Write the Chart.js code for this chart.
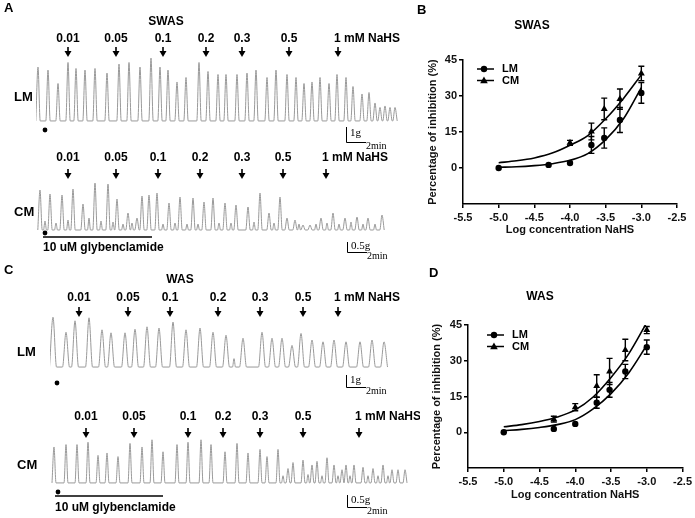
<!DOCTYPE html>
<html>
<head>
<meta charset="utf-8">
<script src="https://cdn.jsdelivr.net/npm/chart.js@4.4.1/dist/chart.umd.min.js"></script>
<style>
  html, body { margin: 0; padding: 0; background: #fff; }
  #fig { position: relative; width: 695px; height: 518px; overflow: hidden; }
  canvas { position: absolute; }
</style>
</head>
<body>
<div id="fig">
  <canvas id="lmSwas" width="420" height="150" style="left:0;top:0"></canvas>
  <canvas id="cmSwas" width="420" height="112" style="left:0;top:150px"></canvas>
  <canvas id="lmWas" width="420" height="142" style="left:0;top:255px"></canvas>
  <canvas id="cmWas" width="420" height="128" style="left:0;top:390px"></canvas>
  <canvas id="swas" width="285" height="258" style="left:410px;top:0"></canvas>
  <canvas id="was" width="285" height="260" style="left:410px;top:258px"></canvas>
</div>
<script>
const FONT = '"Liberation Sans", Arial, sans-serif';
const SERIF = '"Liberation Serif", "Times New Roman", serif';

// NaHS additions (mM), and the minute each was added in each recording
const doseLabels = ['0.01', '0.05', '0.1', '0.2', '0.3', '0.5', '1 mM NaHS'];
const doseTimesLmSwas = [3.2, 8.0, 12.7, 17.0, 20.6, 25.3, 30.2];
const doseTimesCmSwas = [3.2, 8.0, 12.2, 16.4, 20.6, 24.7, 29.0];
const doseTimesLmWas = [2.9, 7.8, 12.0, 16.8, 21.0, 25.3, 28.8];
const doseTimesCmWas = [3.6, 8.4, 13.8, 17.3, 21.0, 25.3, 30.9];

// contraction peaks: time (min) and amplitude above baseline (g)
const lmSwasTimes = [0.2, 1.2, 2.2, 3.2, 4.0, 4.9, 5.9, 7.1, 8.3, 9.3, 10.4, 11.5, 12.4, 13.2, 14.1, 15.0, 16.3, 17.2, 18.2, 19.0, 20.1, 21.1, 22.0, 23.1, 24.0, 25.1, 26.0, 26.8, 27.6, 28.4, 29.3, 30.1, 31.0, 31.7, 32.6, 33.3, 33.9, 34.4, 34.9, 35.4, 35.9];
const lmSwasPeaks = [3.6, 3.4, 2.5, 3.9, 3.5, 3.4, 3.5, 3.2, 3.8, 3.9, 3.6, 4.2, 3.6, 3.4, 2.6, 2.9, 3.9, 3.3, 3.1, 3.1, 3.1, 3.2, 3.4, 2.9, 3.4, 3.1, 2.9, 2.5, 2.6, 2.9, 2.5, 3.1, 2.9, 2.3, 1.8, 1.9, 1.2, 0.9, 1.0, 0.9, 0.9];

const cmSwasTimes = [0.4, 1.4, 2.6, 3.7, 4.7, 5.9, 7.2, 8.1, 9.2, 10.1, 10.6, 11.3, 12.1, 13.3, 14.4, 15.7, 16.8, 17.7, 18.9, 20.0, 21.2, 22.4, 23.3, 24.4, 25.1, 25.9, 26.7, 27.4, 28.5, 29.7, 30.9, 32.1, 33.2, 34.6];
const cmSwasPeaks = [2.0, 1.8, 1.75, 2.05, 1.3, 2.35, 2.3, 1.55, 0.85, 0.6, 1.7, 1.75, 1.85, 1.35, 1.65, 1.6, 1.4, 1.6, 1.35, 1.25, 1.15, 1.85, 0.85, 1.65, 0.6, 0.5, 0.25, 0.25, 0.6, 0.85, 0.6, 0.65, 0.6, 0.75];
const cmSwasNoiseTimes = [0.9, 2.0, 3.2, 5.3, 6.5, 7.7, 8.7, 9.6, 12.7, 13.9, 15.1, 16.2, 18.3, 19.5, 21.8, 23.8, 26.3, 28.0, 29.1, 30.3, 31.5, 32.7, 33.9];
const cmSwasNoise = [0.45, 0.35, 0.5, 0.6, 0.45, 0.4, 0.3, 0.35, 0.3, 0.35, 0.3, 0.3, 0.35, 0.35, 0.4, 0.35, 0.3, 0.3, 0.35, 0.3, 0.4, 0.3, 0.3];

const lmWasTimes = [0.3, 1.6, 2.5, 3.9, 5.2, 6.1, 7.5, 8.5, 9.7, 10.9, 12.3, 13.6, 15.0, 16.3, 17.6, 19.3, 21.2, 22.2, 23.2, 24.2, 25.1, 26.2, 27.3, 28.4, 29.6, 31.0, 32.2, 33.4];
const lmWasPeaks = [4.15, 2.9, 3.85, 4.1, 3.1, 2.85, 2.85, 3.15, 3.35, 3.25, 3.75, 3.1, 3.25, 2.9, 2.65, 2.4, 2.9, 2.4, 2.4, 1.8, 2.8, 2.25, 2.1, 2.25, 2.1, 2.1, 2.25, 2.1];
const lmWasNoiseTimes = [18.4];
const lmWasNoise = [0.7];

const cmWasTimes = [0.4, 1.6, 2.7, 3.8, 4.8, 5.7, 6.8, 8.0, 9.2, 10.2, 11.3, 12.7, 13.8, 15.1, 16.1, 17.5, 18.7, 19.8, 21.0, 21.7, 22.8, 23.8, 24.3, 25.3, 26.2, 26.7, 27.7, 28.4, 29.2, 29.6, 30.4, 31.3, 32.3, 33.3, 34.2, 34.8, 35.5];
const cmWasPeaks = [1.5, 1.6, 1.6, 1.7, 1.15, 1.25, 1.1, 1.65, 1.5, 1.8, 1.3, 1.6, 1.7, 1.8, 1.6, 1.3, 1.65, 1.25, 1.4, 1.1, 1.4, 0.6, 0.85, 0.95, 0.75, 0.9, 1.05, 0.75, 0.55, 0.75, 0.75, 0.65, 0.6, 0.75, 0.55, 0.55, 0.55];
const cmWasNoiseTimes = [23.3, 25.8, 27.2, 28.8, 30.0, 31.8, 32.8, 33.8];
const cmWasNoise = [0.3, 0.35, 0.3, 0.3, 0.3, 0.3, 0.3, 0.3];

// concentration-response (mean, SEM; % inhibition)
const logConc = [-5.0, -4.3, -4.0, -3.7, -3.52, -3.3, -3.0];
const swasLmMean = [0, 1.3, 2.1, 9.6, 12.5, 20.0, 31.3];
const swasLmSem = [0, 0, 0, 3.5, 4.2, 5.2, 4.3];
const swasCmMean = [null, null, 10.5, 15.2, 24.6, 28.7, 39.4];
const swasCmSem = [0, 0, 1.0, 3.5, 4.5, 4.2, 3.0];
const wasLmMean = [0, 1.4, 3.5, 12.4, 17.8, 25.5, 35.7];
const wasLmSem = [0, 0, 0, 2.3, 3.1, 3.0, 3.0];
const wasCmMean = [null, 5.5, 10.5, 19.4, 25.5, 34.5, 42.9];
const wasCmSem = [0, 1.2, 1.5, 4.7, 5.5, 4.5, 1.5];

// fitted curves
const fitX = [-5.0, -4.75, -4.5, -4.25, -4.0, -3.75, -3.5, -3.25, -3.0];
const swasLmFit = [0.3, 0.5, 1.0, 1.8, 3.2, 6.0, 11.8, 20.5, 33.5];
const swasCmFit = [2.2, 3.0, 4.2, 6.2, 9.5, 13.5, 20.5, 29.0, 38.8];
const wasLmFit = [0.7, 1.2, 2.0, 3.2, 5.3, 9.8, 16.2, 25.0, 36.5];
const wasCmFit = [2.3, 3.2, 4.5, 6.4, 9.4, 14.8, 23.0, 33.0, 46.0];

const xTicks = [-5.5, -5.0, -4.5, -4.0, -3.5, -3.0, -2.5];
const yTicks = [0, 15, 30, 45];

function wave(times, peaks, noiseTimes, noise, hw) {
  const pts = [];
  times.forEach((t, i) => pts.push({x: t - hw, y: 0}, {x: t, y: peaks[i]}, {x: t + hw, y: 0}));
  (noiseTimes || []).forEach((t, i) => pts.push({x: t - 0.15, y: 0}, {x: t, y: noise[i]}, {x: t + 0.15, y: 0}));
  return pts.sort((a, b) => a.x - b.x);
}

function arrow(ctx, px, py) {
  ctx.lineWidth = 1.6;
  ctx.beginPath(); ctx.moveTo(px, py - 6); ctx.lineTo(px, py - 1); ctx.stroke();
  ctx.beginPath();
  ctx.moveTo(px - 3.5, py - 2); ctx.lineTo(px + 3.5, py - 2); ctx.lineTo(px, py + 4);
  ctx.closePath(); ctx.fill();
}

const traceDecor = {
  id: 'traceDecor',
  afterDraw(chart, args, o) {
    const {ctx, scales: {x, y}} = chart;
    ctx.save();
    ctx.fillStyle = '#000'; ctx.strokeStyle = '#000';
    ctx.textBaseline = 'middle';
    if (o.letter) {
      ctx.font = 'bold 13px ' + FONT; ctx.textAlign = 'left';
      ctx.fillText(o.letter, 4, o.letterY);
    }
    if (o.title) {
      ctx.font = 'bold 12px ' + FONT; ctx.textAlign = 'center';
      ctx.fillText(o.title, o.titleX, o.titleY);
    }
    ctx.font = 'bold 12px ' + FONT;
    o.doses.forEach((t, i) => {
      const px = x.getPixelForValue(t);
      const last = i === o.doses.length - 1;
      ctx.textAlign = last ? 'left' : 'center';
      ctx.fillText(doseLabels[i], last ? px - 4 : px, o.labelY);
      arrow(ctx, px, o.arrowY);
    });
    ctx.font = 'bold 13px ' + FONT; ctx.textAlign = 'left';
    ctx.fillText(o.side, o.sideX, o.sideY);
    // start marker
    ctx.beginPath(); ctx.arc(x.getPixelForValue(o.dot), o.dotY, 2.4, 0, Math.PI * 2); ctx.fill();
    if (o.glyb) {
      const g0 = x.getPixelForValue(o.glyb[0]), g1 = x.getPixelForValue(o.glyb[1]);
      ctx.lineWidth = 1.3;
      ctx.beginPath(); ctx.moveTo(g0, o.glybY); ctx.lineTo(g1, o.glybY); ctx.stroke();
      ctx.font = 'bold 12px ' + FONT;
      ctx.fillText('10 uM glybenclamide', g0, o.glybTextY);
    }
    // calibration bar
    const sx = x.getPixelForValue(o.bar.t), by = o.bar.y;
    const h = y.getPixelForValue(0) - y.getPixelForValue(o.bar.g);
    const w = x.getPixelForValue(o.bar.t + 2) - sx;
    ctx.lineWidth = 1;
    ctx.beginPath(); ctx.moveTo(sx + 0.5, by - h); ctx.lineTo(sx + 0.5, by + 0.5); ctx.lineTo(sx + w, by + 0.5); ctx.stroke();
    ctx.font = '11px ' + SERIF;
    ctx.fillText(o.bar.label, sx + 4, by - h / 2 - 1);
    ctx.font = '10px ' + SERIF;
    ctx.fillText('2min', sx + w, by + 4);
    ctx.restore();
  }
};

function traceChart(id, data, geo, deco) {
  return new Chart(document.getElementById(id), {
    type: 'line',
    data: { datasets: [{
      data: data,
      borderColor: '#999999',
      borderWidth: 1,
      pointRadius: 0,
      fill: false,
      cubicInterpolationMode: 'monotone'
    }]},
    options: {
      responsive: false, animation: false, events: [], devicePixelRatio: 1,
      layout: { padding: geo.pad },
      scales: {
        x: { type: 'linear', display: false, min: 0, max: geo.xMax },
        y: { display: false, min: geo.yMin, max: geo.yMax }
      },
      plugins: { legend: { display: false }, tooltip: { enabled: false }, traceDecor: deco }
    },
    plugins: [traceDecor]
  });
}

traceChart('lmSwas', wave(lmSwasTimes, lmSwasPeaks, null, null, 0.22),
  { pad: {left: 36, right: 20, top: 55, bottom: 25}, xMax: 36.4, yMin: -0.27, yMax: 4.4 },
  { letter: 'A', letterY: 8, title: 'SWAS', titleX: 166, titleY: 22, doses: doseTimesLmSwas, labelY: 39, arrowY: 53,
    side: 'LM', sideX: 14, sideY: 97, dot: 0.9, dotY: 130, bar: { t: 31.0, y: 142, g: 1, label: '1g' } });

traceChart('cmSwas', wave(cmSwasTimes, cmSwasPeaks, cmSwasNoiseTimes, cmSwasNoise, 0.22),
  { pad: {left: 36, right: 30, top: 30, bottom: 27}, xMax: 35.4, yMin: -0.25, yMax: 2.5 },
  { doses: doseTimesCmSwas, labelY: 8, arrowY: 25, side: 'CM', sideX: 14, sideY: 62, dot: 0.9, dotY: 83,
    glyb: [0.7, 11.6], glybY: 87, glybTextY: 98, bar: { t: 31.1, y: 102, g: 0.5, label: '0.5g' } });

traceChart('lmWas', wave(lmWasTimes, lmWasPeaks, lmWasNoiseTimes, lmWasNoise, 0.35),
  { pad: {left: 50, right: 25, top: 55, bottom: 26}, xMax: 34.5, yMin: -0.33, yMax: 4.75 },
  { letter: 'C', letterY: 15, title: 'WAS', titleX: 180, titleY: 25, doses: doseTimesLmWas, labelY: 43, arrowY: 58,
    side: 'LM', sideX: 17, sideY: 97, dot: 0.7, dotY: 128, bar: { t: 29.6, y: 132, g: 1, label: '1g' } });

traceChart('cmWas', wave(cmWasTimes, cmWasPeaks, cmWasNoiseTimes, cmWasNoise, 0.2),
  { pad: {left: 50, right: 12, top: 45, bottom: 31}, xMax: 35.8, yMin: -0.17, yMax: 2.0 },
  { doses: doseTimesCmWas, labelY: 27, arrowY: 44, side: 'CM', sideX: 17, sideY: 75, dot: 0.8, dotY: 102,
    glyb: [0.5, 11.3], glybY: 106, glybTextY: 118, bar: { t: 29.7, y: 117, g: 0.5, label: '0.5g' } });

// ---- concentration-response panels ----
function marker(ctx, style, px, py) {
  ctx.beginPath();
  if (style === 'circle') {
    ctx.arc(px, py, 3.2, 0, Math.PI * 2);
  } else {
    ctx.moveTo(px, py - 4); ctx.lineTo(px + 3.8, py + 2.8); ctx.lineTo(px - 3.8, py + 2.8); ctx.closePath();
  }
  ctx.fill();
}

const doseDecor = {
  id: 'doseDecor',
  afterDatasetsDraw(chart) {
    const {ctx, scales: {x, y}} = chart;
    ctx.save();
    ctx.strokeStyle = '#000'; ctx.lineWidth = 1.4;
    chart.data.datasets.forEach(ds => {
      if (!ds.sem) return;
      ds.data.forEach((p, i) => {
        const e = ds.sem[i];
        if (!e) return;
        const px = x.getPixelForValue(p.x);
        const y1 = y.getPixelForValue(p.y + e), y2 = y.getPixelForValue(p.y - e);
        ctx.beginPath();
        ctx.moveTo(px, y1); ctx.lineTo(px, y2);
        ctx.moveTo(px - 3, y1); ctx.lineTo(px + 3, y1);
        ctx.moveTo(px - 3, y2); ctx.lineTo(px + 3, y2);
        ctx.stroke();
      });
    });
    ctx.restore();
  },
  afterDraw(chart, args, o) {
    const {ctx, chartArea: ca} = chart;
    ctx.save();
    ctx.fillStyle = '#000'; ctx.strokeStyle = '#000';
    ctx.textBaseline = 'middle';
    ctx.font = 'bold 13px ' + FONT; ctx.textAlign = 'left';
    ctx.fillText(o.letter, o.letterX, o.letterY);
    ctx.font = 'bold 12px ' + FONT; ctx.textAlign = 'center';
    ctx.fillText(o.title, o.titleX, o.titleY);
    ctx.font = 'bold 11px ' + FONT; ctx.textAlign = 'left';
    [['LM', 'circle'], ['CM', 'triangle']].forEach((l, i) => {
      const lx = ca.left + o.legendX, ly = ca.top + o.legendY + i * 11.5;
      ctx.lineWidth = 1.5;
      ctx.beginPath(); ctx.moveTo(lx, ly); ctx.lineTo(lx + 17, ly); ctx.stroke();
      marker(ctx, l[1], lx + 7, ly);
      ctx.fillText(l[0], lx + 25, ly);
    });
    ctx.restore();
  }
};

function pts(xs, ys) {
  const out = [];
  xs.forEach((v, i) => { if (ys[i] !== null) out.push({x: v, y: ys[i]}); });
  return out;
}
function sems(ys, es) {
  return es.filter((e, i) => ys[i] !== null);
}

function doseChart(id, lmMean, lmSem, cmMean, cmSem, lmFit, cmFit, geo, deco) {
  const axisFont = { family: FONT, size: 11, weight: 'bold' };
  const fitStyle = { borderColor: '#000', borderWidth: 1.6, pointRadius: 0, fill: false, cubicInterpolationMode: 'monotone' };
  return new Chart(document.getElementById(id), {
    type: 'line',
    data: { datasets: [
      Object.assign({ data: pts(fitX, lmFit) }, fitStyle),
      Object.assign({ data: pts(fitX, cmFit) }, fitStyle),
      { data: pts(logConc, lmMean), sem: sems(lmMean, lmSem), showLine: false, pointStyle: 'circle', pointRadius: 3.2,
        backgroundColor: '#000', borderColor: '#000', borderWidth: 0 },
      { data: pts(logConc, cmMean), sem: sems(cmMean, cmSem), showLine: false, pointStyle: 'triangle', pointRadius: 4,
        backgroundColor: '#000', borderColor: '#000', borderWidth: 0 }
    ]},
    options: {
      responsive: false, animation: false, events: [], devicePixelRatio: 1,
      layout: { padding: geo.pad },
      plugins: { legend: { display: false }, tooltip: { enabled: false }, doseDecor: deco },
      scales: {
        x: {
          type: 'linear', min: -5.5, max: -2.5,
          afterBuildTicks: s => { s.ticks = xTicks.map(v => ({ value: v })); },
          afterFit: s => { s.height = geo.xHeight; },
          ticks: { callback: v => v.toFixed(1), font: axisFont, color: '#111', padding: 3, autoSkip: false, maxRotation: 0 },
          grid: { drawOnChartArea: false, drawTicks: true, tickLength: 4, color: '#000', lineWidth: 1.5 },
          border: { display: true, color: '#000', width: 1.5 },
          title: { display: true, text: 'Log concentration NaHS', font: axisFont, color: '#111' }
        },
        y: {
          min: -15, max: 45,
          afterBuildTicks: s => { s.ticks = yTicks.map(v => ({ value: v })); },
          afterFit: s => { s.width = geo.yWidth; },
          ticks: { font: axisFont, color: '#111', padding: 2 },
          grid: { drawOnChartArea: false, drawTicks: true, tickLength: 4, color: '#000', lineWidth: 1.5 },
          border: { display: true, color: '#000', width: 1.5 },
          title: { display: true, text: 'Percentage of inhibition (%)', font: axisFont, color: '#111' }
        }
      }
    },
    plugins: [doseDecor]
  });
}

doseChart('swas', swasLmMean, swasLmSem, swasCmMean, swasCmSem, swasLmFit, swasCmFit,
  { pad: {left: 12, right: 18, top: 60, bottom: 17}, yWidth: 41, xHeight: 37 },
  { letter: 'B', letterX: 7, letterY: 10, title: 'SWAS', titleX: 122, titleY: 26, legendX: 14, legendY: 9 });

doseChart('was', wasLmMean, wasLmSem, wasCmMean, wasCmSem, wasLmFit, wasCmFit,
  { pad: {left: 16, right: 12, top: 67, bottom: 12}, yWidth: 42, xHeight: 38 },
  { letter: 'D', letterX: 19, letterY: 15, title: 'WAS', titleX: 130, titleY: 39, legendX: 19, legendY: 10 });
</script>
</body>
</html>
